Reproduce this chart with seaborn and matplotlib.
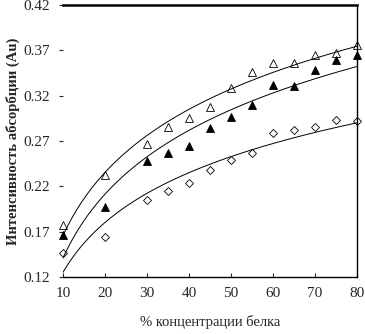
import matplotlib
matplotlib.use("Agg")
import matplotlib.pyplot as plt
import numpy as np
import pandas as pd
import seaborn as sns

sns.set_style("white")
plt.rcParams['font.family'] = ['Liberation Serif', 'DejaVu Serif']

# concentration (%) and absorbance values
conc = [10, 20, 30, 35, 40, 45, 50, 55, 60, 65, 70, 75, 80]
open_tri = [0.177, 0.232, 0.267, 0.285, 0.295, 0.308, 0.328, 0.346, 0.356, 0.356, 0.365, 0.367, 0.376]
filled_tri = [0.166, 0.197, 0.248, 0.257, 0.264, 0.284, 0.297, 0.310, 0.332, 0.331, 0.348, 0.359, 0.365]
diamond = [0.147, 0.164, 0.205, 0.215, 0.224, 0.238, 0.249, 0.257, 0.279, 0.282, 0.285, 0.293, 0.292]

fig = plt.figure(figsize=(3.65, 3.34), dpi=100)
ax = fig.add_axes([0.1726, 0.1707, 0.8055, 0.8143])

series = [
    (open_tri, "^", "none", 6),
    (filled_tri, "^", "black", 6),
    (diamond, "D", "none", 4.5),
]

xs = np.linspace(9, 80, 300)
for vals, marker, face, ms in series:
    # logarithmic trend line through each series
    b, a = np.polyfit(np.log(conc), vals, 1)
    fit = pd.DataFrame({"x": xs, "y": a + b * np.log(xs)})
    sns.lineplot(data=fit, x="x", y="y", ax=ax, color="black", linewidth=0.7)
    pts = pd.DataFrame({"x": conc, "y": vals})
    ax.plot(pts["x"], pts["y"], linestyle="none", marker=marker, markersize=ms,
            markerfacecolor=face, markeredgecolor="black", markeredgewidth=0.6,
            clip_on=False, zorder=5)

ax.set_xlim(10, 80)
ax.set_ylim(0.12, 0.42)
ax.set_xticks([10, 20, 30, 40, 50, 60, 70, 80])
ax.set_yticks([0.12, 0.17, 0.22, 0.27, 0.32, 0.37, 0.42])
ax.set_yticklabels(["0.12", "0.17", "0.22", "0.27", "0.32", "0.37", "0.42"])

ax.spines["left"].set_visible(False)
for s in ["top", "right", "bottom"]:
    ax.spines[s].set_color("black")
ax.spines["top"].set_linewidth(1.8)
ax.spines["right"].set_linewidth(1.0)
ax.spines["bottom"].set_linewidth(1.0)

ax.tick_params(axis="y", direction="out", length=3, width=0.8, left=True, labelsize=11, pad=6)
ax.tick_params(axis="x", direction="in", length=3, width=0.8, bottom=True, labelsize=11, pad=7)

ax.set_xlabel("% концентрации белка", fontsize=10.5, labelpad=11)
ax.set_ylabel("Интенсивность абсорбции (Au)", fontsize=10.5, fontweight="bold")
ax.yaxis.set_label_coords(-0.145, 0.5)

plt.savefig("out.png", dpi=100)
